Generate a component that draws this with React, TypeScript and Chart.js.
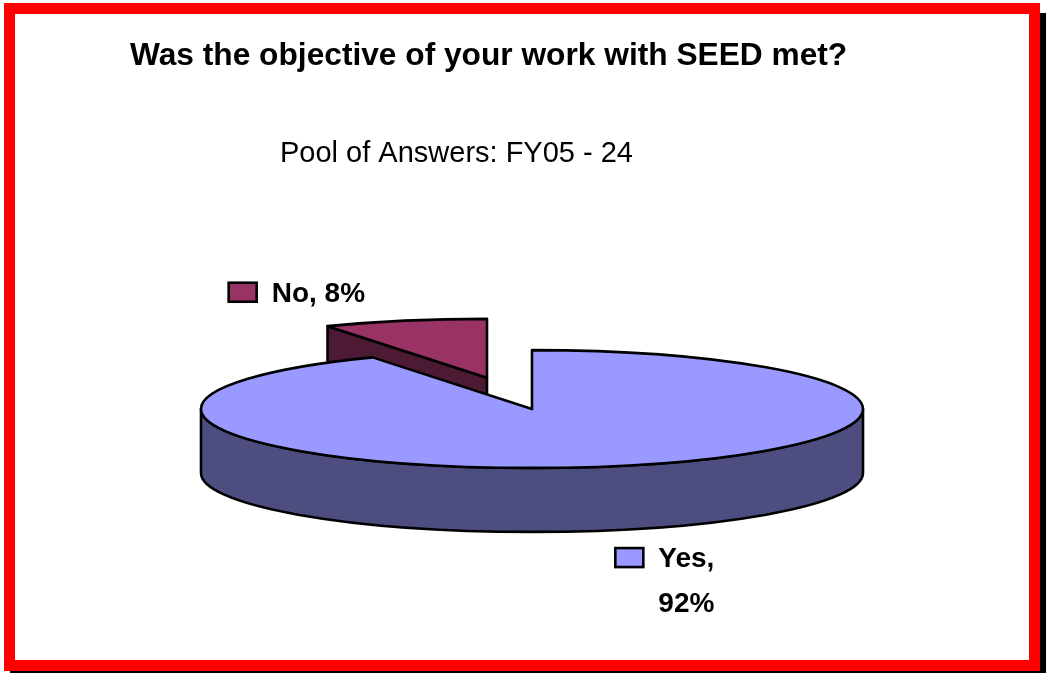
import React, { useEffect, useRef } from 'react';
import { Chart, registerables } from 'chart.js';

Chart.register(...registerables);

// ---- data ----
const TITLE = 'Was the objective of your work with SEED met?';
const SUBTITLE = 'Pool of Answers: FY05 - 24';
const CATEGORIES = ['Yes', 'No'];
const PERCENTS = [92, 8];

// ---- styles ----
const TOP_COLORS = ['#9999FF', '#993366'];
const SIDE_COLORS = ['#4D4D80', '#4D1A33'];
const EXPLODE = [0, 181];
const LABEL_WRAP = [true, false];
const LABEL_KEY_OFFSETS = [
  [1, 18],
  [-176, -38],
];
const TILT = 0.178;
const DEPTH = 64;
const FONT = '"Liberation Sans", Arial, Helvetica, sans-serif';

const pie3d = {
  id: 'pie3d',
  beforeDatasetsDraw(chart: any) {
    const ctx = chart.ctx as CanvasRenderingContext2D;
    const meta = chart.getDatasetMeta(0);
    const slices = meta.data.map((el: any, i: number) => {
      const a0 = el.startAngle;
      const a1 = el.endAngle;
      const R = el.outerRadius;
      const mid = (a0 + a1) / 2;
      const d = EXPLODE[i] || 0;
      const cx = el.x + d * Math.cos(mid);
      const cy = el.y + d * Math.sin(mid) * TILT;
      return { el, i, a0, a1, mid, cx, cy, rx: R, ry: R * TILT };
    });
    chart.$slices3d = slices;
    const order = [...slices].sort((p: any, q: any) => p.cy - q.cy);
    ctx.save();
    ctx.lineWidth = 2.6;
    ctx.lineJoin = 'round';
    ctx.strokeStyle = '#000';
    for (const s of order) {
      const P = (t: number, z: number) => [s.cx + s.rx * Math.cos(t), s.cy + s.ry * Math.sin(t) + z];
      const face = (t: number) => {
        const [x1, y1] = P(t, 0);
        ctx.beginPath();
        ctx.moveTo(s.cx, s.cy);
        ctx.lineTo(x1, y1);
        ctx.lineTo(x1, y1 + DEPTH);
        ctx.lineTo(s.cx, s.cy + DEPTH);
        ctx.closePath();
        ctx.fillStyle = SIDE_COLORS[s.i];
        ctx.fill();
        ctx.stroke();
      };
      if (Math.cos(s.a0) < -1e-6) face(s.a0);
      if (Math.cos(s.a1) > 1e-6) face(s.a1);
      for (let k = -1; k <= 1; k++) {
        const lo = Math.max(s.a0, 2 * Math.PI * k);
        const hi = Math.min(s.a1, 2 * Math.PI * k + Math.PI);
        if (hi - lo > 1e-6) {
          ctx.beginPath();
          ctx.ellipse(s.cx, s.cy, s.rx, s.ry, 0, lo, hi, false);
          ctx.ellipse(s.cx, s.cy + DEPTH, s.rx, s.ry, 0, hi, lo, true);
          ctx.closePath();
          ctx.fillStyle = SIDE_COLORS[s.i];
          ctx.fill();
          ctx.stroke();
        }
      }
      // top face, filled by Chart.js arc element under a tilt transform
      ctx.save();
      ctx.translate(s.cx, s.cy);
      ctx.scale(1, TILT);
      ctx.translate(-s.el.x, -s.el.y);
      s.el.draw(ctx);
      ctx.restore();
      ctx.beginPath();
      ctx.moveTo(s.cx, s.cy);
      ctx.ellipse(s.cx, s.cy, s.rx, s.ry, 0, s.a0, s.a1, false);
      ctx.closePath();
      ctx.stroke();
    }
    ctx.restore();
    return false;
  },
  afterDraw(chart: any) {
    const ctx = chart.ctx as CanvasRenderingContext2D;
    ctx.save();
    ctx.fillStyle = '#000';
    ctx.textBaseline = 'alphabetic';
    ctx.textAlign = 'left';
    ctx.font = `bold 31.7px ${FONT}`;
    ctx.fillText(TITLE, 130, 65);
    ctx.font = `29px ${FONT}`;
    ctx.fillText(SUBTITLE, 280, 162);

    const total = PERCENTS.reduce((a, b) => a + b, 0);
    const slices = chart.$slices3d || [];
    ctx.font = `bold 28px ${FONT}`;
    for (const s of slices) {
      const pct = Math.round((PERCENTS[s.i] / total) * 100);
      const cat = CATEGORIES[s.i];
      const lines = LABEL_WRAP[s.i] ? [`${cat},`, `${pct}%`] : [`${cat}, ${pct}%`];
      const sn = Math.sin(s.mid);
      const ax = s.cx + s.rx * Math.cos(s.mid);
      const ay = s.cy + s.ry * sn + (sn > 0 ? DEPTH : 0);
      const kx = ax + LABEL_KEY_OFFSETS[s.i][0];
      const ky = ay + LABEL_KEY_OFFSETS[s.i][1];
      ctx.fillStyle = TOP_COLORS[s.i];
      ctx.fillRect(kx, ky, 28, 19);
      ctx.lineWidth = 2.6;
      ctx.strokeStyle = '#000';
      ctx.strokeRect(kx, ky, 28, 19);
      ctx.fillStyle = '#000';
      const tx = kx + 43;
      const widths = lines.map((l) => ctx.measureText(l).width);
      const bw = Math.max(...widths);
      lines.forEach((l, j) => {
        ctx.fillText(l, tx + (bw - widths[j]) / 2, ky + 19 + j * 45);
      });
    }
    ctx.restore();
  },
};

export default function App() {
  const ref = useRef<HTMLCanvasElement | null>(null);
  useEffect(() => {
    if (!ref.current) return;
    const chart = new Chart(ref.current, {
      type: 'pie',
      data: {
        labels: CATEGORIES,
        datasets: [
          {
            data: PERCENTS,
            backgroundColor: TOP_COLORS,
            borderWidth: 0,
          },
        ],
      },
      options: {
        responsive: false,
        animation: false,
        radius: 331,
        events: [],
        layout: { padding: { left: 201, right: 183, top: 350, bottom: 205 } },
        plugins: {
          legend: { display: false },
          tooltip: { enabled: false },
          title: { display: false },
        },
      } as any,
      plugins: [pie3d as any],
    });
    return () => chart.destroy();
  }, []);

  return (
    <div style={{ position: 'fixed', left: 0, top: 0, width: 1046, height: 673, background: '#fff', overflow: 'hidden' }}>
      <div
        style={{
          position: 'absolute',
          left: 4,
          top: 3,
          width: 1036,
          height: 668,
          boxSizing: 'border-box',
          border: '11px solid #FF0000',
          boxShadow: '6px 10px 0 #000',
          background: '#fff',
        }}
      />
      <canvas ref={ref} width={1046} height={673} style={{ position: 'absolute', left: 0, top: 0 }} />
    </div>
  );
}
